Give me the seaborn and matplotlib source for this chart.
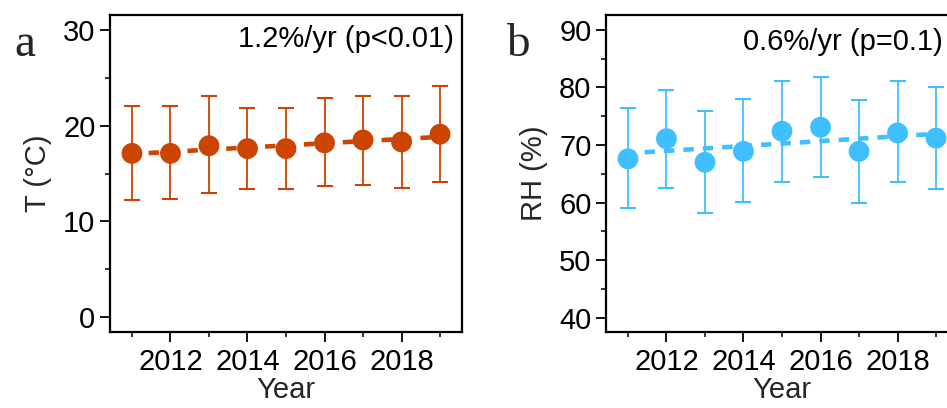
import numpy as np
import pandas as pd
import matplotlib
matplotlib.use("Agg")
import matplotlib.pyplot as plt
import seaborn as sns
from matplotlib.ticker import MultipleLocator

# ---- data ----
years = [2011, 2012, 2013, 2014, 2015, 2016, 2017, 2018, 2019]
t_mean = [17.1, 17.1, 17.9, 17.6, 17.6, 18.2, 18.5, 18.3, 19.1]
t_low = [12.2, 12.3, 13.0, 13.4, 13.4, 13.7, 13.8, 13.5, 14.1]
t_high = [22.0, 22.0, 23.1, 21.8, 21.8, 22.9, 23.1, 23.1, 24.1]
rh_mean = [67.6, 71.1, 67.0, 68.9, 72.4, 73.1, 68.9, 72.1, 71.2]
rh_low = [59.0, 62.6, 58.2, 60.1, 63.5, 64.4, 60.0, 63.5, 62.3]
rh_high = [76.4, 79.6, 76.0, 78.0, 81.2, 81.8, 77.9, 81.2, 80.0]
x_ticklabels = ["2012", "2014", "2016", "2018"]
t_text = "1.2%/yr (p<0.01)"
rh_text = "0.6%/yr (p=0.1)"

sns.set_theme(style="ticks")
plt.rcParams["font.family"] = ["Liberation Sans", "DejaVu Sans"]
plt.rcParams["lines.scale_dashes"] = False

FS = 21
W, H = 947, 408
fig = plt.figure(figsize=(W / 100, H / 100), dpi=100)


def px_axes(left, top, right, bottom):
    return fig.add_axes([left / W, 1 - bottom / H, (right - left) / W, (bottom - top) / H])


def panel(ax, mean, low, high, color, ylim, ymajor, ylabel, text, tx, ty, tha, letter, lx):
    df = pd.DataFrame({"Year": years, "v": mean})
    err = np.vstack([np.array(mean) - np.array(low), np.array(high) - np.array(mean)])
    sns.regplot(data=df, x="Year", y="v", ax=ax, ci=None, scatter=False, color=color,
                line_kws=dict(lw=3.3, linestyle=(2, (7.5, 6.5)), zorder=1))
    ax.errorbar(years, mean, yerr=err, fmt="none", ecolor=color, elinewidth=1.3,
                capsize=5.5, capthick=1.5, zorder=2)
    sns.scatterplot(data=df, x="Year", y="v", ax=ax, color=color, s=225,
                    edgecolor="none", linewidth=0, zorder=3)
    ax.set_xlim(2010.43, 2019.57)
    ax.set_ylim(*ylim)
    ax.xaxis.set_minor_locator(MultipleLocator(1))
    ax.set_xticks([2012, 2014, 2016, 2018])
    ax.set_xticklabels(x_ticklabels)
    ax.yaxis.set_major_locator(MultipleLocator(ymajor))
    ax.yaxis.set_minor_locator(MultipleLocator(ymajor / 2))
    ax.tick_params(axis="both", which="major", direction="out", length=7, width=1.3,
                   labelsize=FS, colors="black")
    ax.tick_params(axis="both", which="minor", direction="out", length=3.5, width=1.3)
    ax.tick_params(axis="y", which="major", pad=3.5)
    ax.tick_params(axis="x", which="major", pad=4.3)
    for s in ax.spines.values():
        s.set_visible(True)
        s.set_linewidth(1.6)
        s.set_color("black")
    ax.set_xlabel("Year", fontsize=FS, labelpad=0)
    ax.set_ylabel(ylabel, fontsize=FS, labelpad=8)
    ax.text(tx, ty, text, transform=ax.transAxes, ha=tha, va="top", fontsize=FS,
            color="black")
    fig.text(lx / W, 1 - 55.5 / H, letter, fontsize=34, family=["Liberation Serif", "DejaVu Serif"],
             ha="left", va="baseline")


ax1 = px_axes(110, 15, 462, 332)
panel(ax1, t_mean, t_low, t_high, "#CC4400", (-1.55, 31.55), 10, "T (°C)",
      t_text, 0.978, 0.968, "right", "a", 14)

ax2 = px_axes(606, 15, 958, 332)
panel(ax2, rh_mean, rh_low, rh_high, "#3FBFFF", (37.5, 92.6), 10, "RH (%)",
      rh_text, 0.389, 0.958, "left", "b", 506)

fig.savefig("out.png", dpi=100)
